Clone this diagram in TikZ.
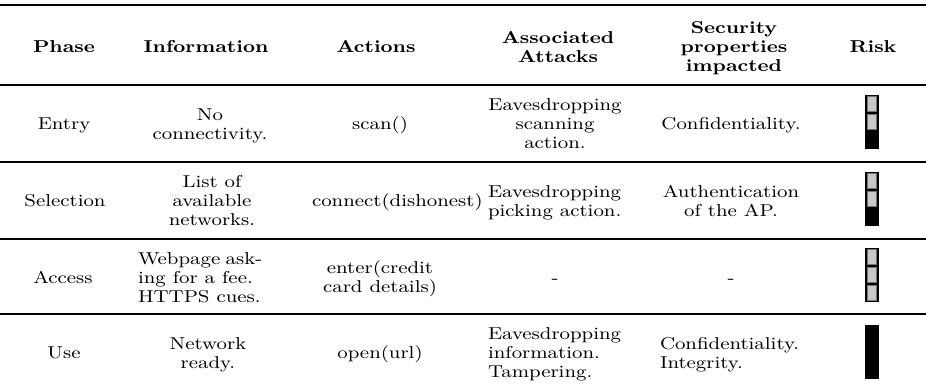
\documentclass[tikz,border=0pt]{standalone}
\usepackage{graphicx}

% horizontal stretch applied to every cell's text
\newcommand\txstretch{1.18}
\newlength\infow
% centred and left-aligned multi-line cells
\newcommand\tcc[1]{\scalebox{\txstretch}[1]{\begin{tabular}{@{}c@{}}#1\end{tabular}}}
\newcommand\tcl[1]{\scalebox{\txstretch}[1]{\begin{tabular}{@{}l@{}}#1\end{tabular}}}

\tikzset{
  cell/.style={inner sep=0pt, outer sep=0pt, yshift=-1.2pt, font=\fontsize{8.6}{9.5}\selectfont},
  head/.style={cell, yshift=-0.8pt, font=\fontsize{8.6}{9.5}\selectfont\bfseries},
  rule/.style={line width=1.4pt, black},
  cellfill/.style={fill=black!22, draw=black!55, line width=0.5pt},
  % risk gauge: three slots, the top #1 of them shown as light cells
  pics/riskbar/.style={code={
    \fill[black] (-7,-27) rectangle (7,27);
    \ifnum#1>0
      \foreach \k in {1,...,#1}{
        \path[cellfill] (-4.5,{-27+18*(\k-1)+1.7}) rectangle (4.5,{-27+18*\k-1.3});
      }
    \fi
  }}
}

\begin{document}
\begin{tikzpicture}[x=0.5pt,y=-0.5pt]
\useasboundingbox (0,0) rectangle (926,390);

% table rules
\draw[rule] (0,5)   -- (926,5);
\draw[rule] (0,85)  -- (926,85);
\draw[rule] (0,162) -- (926,162);
\draw[rule] (0,239) -- (926,239);
\draw[rule] (0,314) -- (926,314);

% header row
\node[head] (hPhase) at (64,45)  {\tcc{Phase}};
\node[head] (hInfo)  at (206,45) {\tcc{Information}};
\node[head] (hAct)   at (376,45) {\tcc{Actions}};
\node[head] (hAtt)   at (558,45) {\tcc{Associated\\Attacks}};
\node[head] (hSec)   at (734,45) {\tcc{Security\\properties\\impacted}};
\node[head] (hRisk)  at (873,45) {\tcc{Risk}};

% Entry
\node[cell] (p1) at (64,123.5)  {\tcc{Entry}};
\node[cell] (i1) at (210,123.5) {\tcc{No\\connectivity.}};
\node[cell] (a1) at (380,123.5) {\tcc{scan()}};
\node[cell] (t1) at (555,123.5) {\tcc{Eavesdropping\\scanning\\action.}};
\node[cell] (s1) at (731,123.5) {\tcc{Confidentiality.}};
\pic (r1) at (872,122) {riskbar=2};

% Selection
\node[cell] (p2) at (65,200.5)  {\tcc{Selection}};
\node[cell] (i2) at (212,200.5) {\tcc{List of\\available\\networks.}};
\node[cell, anchor=west] (a2) at (312,200.5) {\tcc{connect(dishonest)}};
\node[cell, anchor=west] (t2) at (488,200.5) {\tcl{Eavesdropping\\picking action.}};
\node[cell] (s2) at (731,200.5) {\tcc{Authentication\\of the AP.}};
\pic (r2) at (872,199) {riskbar=2};

% Access
\node[cell] (p3) at (63,277) {\tcc{Access}};
\node[cell, anchor=west] (i3) at (138,277)
  {\scalebox{\txstretch}[1]{\settowidth{\infow}{ing for a fee.}\addtolength{\infow}{4pt}%
   \begin{tabular}{@{}l@{}}\makebox[\infow][s]{Webpage ask-}\\ing for a fee.\\HTTPS cues.\end{tabular}}};
\node[cell] (a3) at (380,277) {\tcc{enter(credit\\card details)}};
\node[cell] (t3) at (555,277) {\tcc{-}};
\node[cell] (s3) at (731,277) {\tcc{-}};
\pic (r3) at (872,275) {riskbar=3};

% Use
\node[cell] (p4) at (64,352.5)  {\tcc{Use}};
\node[cell] (i4) at (208,352.5) {\tcc{Network\\ready.}};
\node[cell] (a4) at (380,352.5) {\tcc{open(url)}};
\node[cell, anchor=west] (t4) at (488,352.5) {\tcl{Eavesdropping\\information.\\Tampering.}};
\node[cell, anchor=west] (s4) at (660,352.5) {\tcl{Confidentiality.\\Integrity.}};
\pic (r4) at (872,352) {riskbar=0};
\end{tikzpicture}
\end{document}
